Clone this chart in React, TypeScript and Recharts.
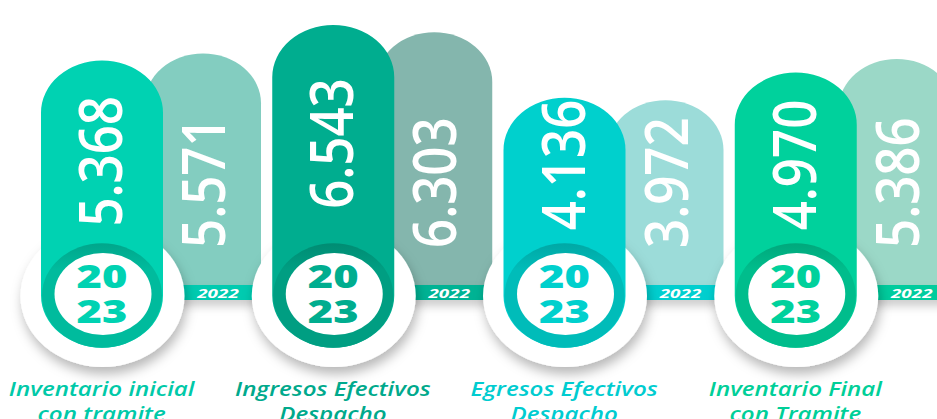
import { BarChart, Bar, XAxis, YAxis } from "recharts";

const categories = [
  "Inventario inicial\ncon tramite",
  "Ingresos Efectivos\nDespacho",
  "Egresos Efectivos\nDespacho",
  "Inventario Final\ncon Tramite",
];
const values2023 = [5368, 6543, 4136, 4970];
const values2022 = [5571, 6303, 3972, 5386];
const yearCurrent = "2023";
const yearPrevious = "2022";

const data = categories.map((name, i) => ({
  name,
  y2023: values2023[i],
  y2022: values2022[i],
}));

// palette per category
const MAIN = ["#00d2b2", "#00ad8f", "#00d0cd", "#00d19c"];
const RING = ["#00bb9d", "#009e82", "#00bcb9", "#00bd8c"];
const RING_DARK = ["#00a68b", "#008c73", "#00a8a5", "#00a87c"];
const PREV = ["#83cdc0", "#84b6ad", "#9cdcd9", "#9bd8c7"];
const BAND = ["#00cbb0", "#00b394", "#00cfcf", "#00cc9d"];
const LABEL = ["#00c9a8", "#00a98c", "#00ccd0", "#00cf98"];

const FONT = "'Open Sans', sans-serif";
const SX = 1.17; // the artwork is stretched horizontally
const RING_CY = 295.5;
const BAND_Y = 285;

const fmt = (v: number) => String(v).replace(/\B(?=(\d{3})+(?!\d))/g, ".");

const Current = (p: any) => {
  const { x, y, width, index, payload } = p;
  const rx = width / 2;
  const ry = rx / SX;
  const cx = x + rx;
  const d = `M${x},${y + ry} A${rx},${ry} 0 0 1 ${x + width},${y + ry} L${x + width},${RING_CY} A${rx},${ry} 0 0 1 ${x},${RING_CY} Z`;
  const ty = Math.min(165, (y + 250) / 2 + 6);
  return (
    <g>
      <ellipse cx={cx + 0.5} cy={296} rx={82} ry={71} fill="#fff" filter="url(#discShadow)" />
      <path d={d} fill={MAIN[index]} />
      <ellipse cx={cx} cy={RING_CY} rx={rx - 1} ry={ry} fill={`url(#ring${index})`} />
      <ellipse cx={cx + 1} cy={294} rx={48.5} ry={41} fill="#fff" />
      <text
        transform={`translate(${cx - 1},${ty}) scale(${SX},1) rotate(-90)`}
        textAnchor="middle"
        y={18}
        fontSize={51}
        fontWeight={600}
        fill="#fff"
        fontFamily={FONT}
      >
        {fmt(payload.y2023)}
      </text>
      <text
        transform={`translate(${cx},${RING_CY - 7.5}) scale(1.4,1)`}
        textAnchor="middle"
        fontSize={31}
        fontWeight={800}
        fill={MAIN[index]}
        fontFamily={FONT}
      >
        <tspan x={0} y={0}>{yearCurrent.slice(0, 2)}</tspan>
        <tspan x={0} y={35}>{yearCurrent.slice(2)}</tspan>
      </text>
    </g>
  );
};

const Previous = (p: any) => {
  const { x, y, width, index, payload } = p;
  const rx = width / 2;
  const ry = rx / SX;
  const cx = x + rx;
  const d = `M${x},${BAND_Y + 8} L${x},${y + ry} A${rx},${ry} 0 0 1 ${x + width},${y + ry} L${x + width},${BAND_Y + 8} Z`;
  return (
    <g>
      <path d={d} fill={PREV[index]} />
      <rect x={x} y={BAND_Y} width={width} height={15} fill={BAND[index]} filter="url(#bandShadow)" />
      <text
        transform={`translate(${cx + 15},${BAND_Y + 13}) scale(1.45,1)`}
        textAnchor="middle"
        fontSize={13}
        fontStyle="italic"
        fontWeight={700}
        fill="#fff"
        fontFamily={FONT}
      >
        {yearPrevious}
      </text>
      <text
        transform={`translate(${cx + 1},248) scale(${SX},1) rotate(-90)`}
        textAnchor="start"
        y={18}
        fontSize={51}
        fontWeight={600}
        fill="#fff"
        fontFamily={FONT}
      >
        {fmt(payload.y2022)}
      </text>
    </g>
  );
};

const Label = (p: any) => {
  const { x, y, payload, index } = p;
  const lines = String(payload.value).split("\n");
  return (
    <g transform={`translate(${x},${y})`}>
      {lines.map((l, k) => (
        <text
          key={k}
          transform={`translate(0,${49 + k * 25}) scale(1.27,1)`}
          textAnchor="middle"
          fontSize={19}
          fontStyle="italic"
          fontWeight={600}
          fill={LABEL[index]}
          fontFamily={FONT}
        >
          {l}
        </text>
      ))}
    </g>
  );
};

export default function App() {
  return (
    <div style={{ position: "absolute", left: 0, top: 0, width: 937, height: 419, overflow: "hidden", background: "#fff" }}>
      <div style={{ position: "absolute", left: -14, top: 0 }}>
        <BarChart width={1040} height={419} data={data} margin={{ top: 0, right: 0, bottom: 0, left: 0 }}>
          <defs>
            <filter id="discShadow" x="-30%" y="-30%" width="160%" height="170%">
              <feDropShadow dx={2} dy={7} stdDeviation={6} floodColor="#000" floodOpacity={0.28} />
            </filter>
            <filter id="bandShadow" x="-10%" y="-50%" width="120%" height="300%">
              <feDropShadow dx={0} dy={6} stdDeviation={5} floodColor="#000" floodOpacity={0.2} />
            </filter>
            {RING.map((c, i) => (
              <linearGradient key={i} id={`ring${i}`} x1="0" y1="0" x2="0" y2="1">
                <stop offset="0%" stopColor={RING_DARK[i]} />
                <stop offset="25%" stopColor={c} />
                <stop offset="100%" stopColor={c} />
              </linearGradient>
            ))}
          </defs>
          <XAxis
            xAxisId="cur"
            dataKey="name"
            height={72}
            padding={{ left: 0, right: 115 }}
            axisLine={false}
            tickLine={false}
            tickSize={0}
            tickMargin={0}
            interval={0}
            tick={<Label />}
          />
          <XAxis xAxisId="prev" dataKey="name" hide padding={{ left: 101, right: 14 }} />
          <YAxis yAxisId="cur" hide domain={[-4120, 7374]} />
          <YAxis yAxisId="prev" hide domain={[-4465, 7403]} />
          <Bar xAxisId="prev" yAxisId="prev" dataKey="y2022" barSize={116} shape={<Previous />} isAnimationActive={false} />
          <Bar xAxisId="cur" yAxisId="cur" dataKey="y2023" barSize={122} shape={<Current />} isAnimationActive={false} />
        </BarChart>
      </div>
    </div>
  );
}
